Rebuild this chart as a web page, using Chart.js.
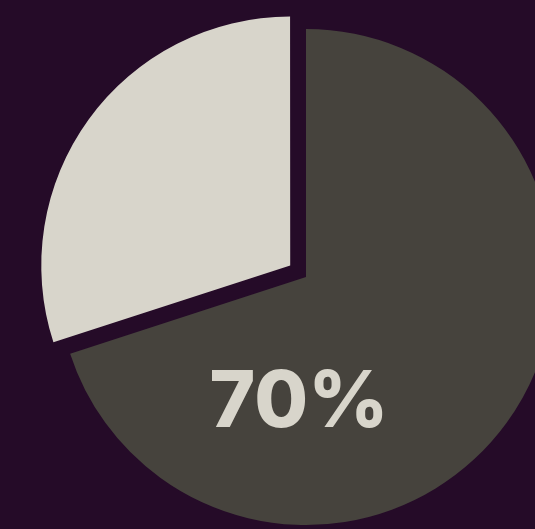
<!DOCTYPE html>
<html lang="en">
  <head>
    <meta charset="UTF-8" />
    <title>70%</title>
    <script src="https://cdn.jsdelivr.net/npm/chart.js@4.4.0/dist/chart.umd.min.js"></script>
    <style>
      html, body { margin: 0; padding: 0; background: #250b28; overflow: hidden; }
      #pie { display: block; }
    </style>
  </head>
  <body>
    <canvas id="pie" width="535" height="529"></canvas>

    <script>
      const labels = ["Yes", "No"];
      const values = [70, 30];
      const colors = ["#46433d", "#d8d5cb"];

      // big label for the first slice, placed below the pie centre
      const centerLabel = {
        id: "centerLabel",
        afterDatasetsDraw(chart) {
          const arc = chart.getDatasetMeta(0).data[0];
          const ctx = chart.ctx;
          ctx.save();
          ctx.fillStyle = "#d8d5cb";
          ctx.font = "800 78px Inter";
          ctx.textAlign = "center";
          ctx.textBaseline = "middle";
          ctx.fillText(values[0] + "%", arc.x - 7, arc.y + arc.outerRadius * 0.5 + 3);
          ctx.restore();
        },
      };

      const ctx = document.getElementById("pie").getContext("2d");
      new Chart(ctx, {
        type: "pie",
        data: {
          labels: labels,
          datasets: [
            {
              data: values,
              backgroundColor: colors,
              borderWidth: 0,
              offset: [0, 78], // arc offset is drawn at a quarter in v4
            },
          ],
        },
        options: {
          responsive: false,
          animation: false,
          radius: 248,
          layout: { padding: { left: 77, right: 0, top: 25, bottom: 0 } },
          plugins: {
            legend: { display: false },
            tooltip: { enabled: false },
          },
        },
        plugins: [centerLabel],
      });
    </script>
  </body>
</html>
